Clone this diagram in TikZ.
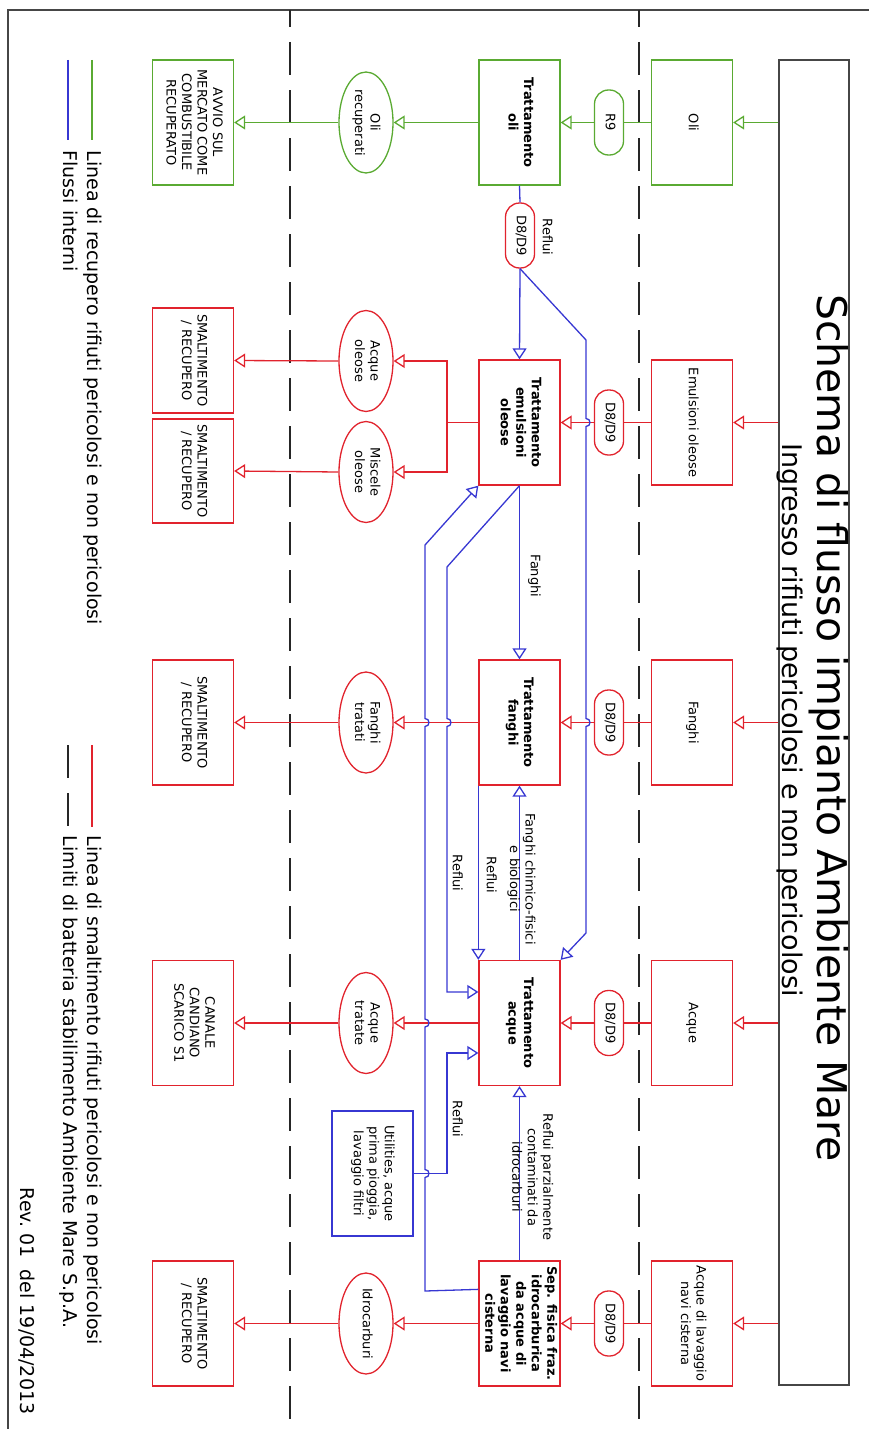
\documentclass[tikz,border=0pt]{standalone}
\usepackage{fontspec}
\setmainfont{DejaVu Sans}
\usepackage{graphicx}
\usetikzlibrary{arrows.meta,shapes.geometric,calc}
\definecolor{gr}{RGB}{90,170,50}
\definecolor{rd}{RGB}{225,35,45}
\definecolor{bl}{RGB}{55,55,210}
\definecolor{frm}{RGB}{70,70,70}
\newcommand\fs{\fontsize{13}{15.5}\selectfont}
\newcommand\lfs{\fontsize{19}{23}\selectfont}
\newcommand\vt[1]{\rotatebox{-90}{\begin{tabular}{@{}c@{}}#1\end{tabular}}}
\begin{document}
\begin{tikzpicture}[x=1pt,y=-1pt,line width=1.3pt,
  box/.style={draw,minimum width=81pt,minimum height=125pt,inner sep=0pt,font=\fs},
  tbox/.style={box,font=\fs\bfseries},
  obox/.style={box},
  ell/.style={ellipse,draw,minimum width=54pt,minimum height=101pt,inner sep=0pt,font=\fs},
  pill/.style={draw,rounded corners=14pt,minimum width=29pt,minimum height=65pt,inner sep=0pt,font=\fs},
  lbl/.style={inner sep=0pt,font=\fs},
  lgd/.style={inner sep=0pt,font=\lfs},
  arr/.style={-{Triangle[open,length=11pt,width=14pt]}},
  lim/.style={draw=black!85,line width=1.3pt,dash pattern=on 33pt off 15pt}
]
\useasboundingbox (0,0) rectangle (869,1429);
\clip (0,0) rectangle (869,1429);
% frame
\draw[frm,line width=1.5pt] (8,10) rectangle (900,1460);
% battery limits
\draw[lim,dash phase=16pt] (290,10) -- (290,1429);
\draw[lim,dash phase=16pt] (639,10) -- (639,1429);
% title box
\node[draw=frm,line width=1.5pt,minimum width=70pt,minimum height=1325pt,inner sep=0pt] (tb) at (814,722.5) {};
\node[inner sep=0pt,font=\fontsize{41}{48}\selectfont] (ttl) at (829,728) {\rotatebox{-90}{Schema di flusso impianto Ambiente Mare}};
\node[inner sep=0pt,font=\fontsize{27}{32}\selectfont] (sub) at (790,720) {\rotatebox{-90}{Ingresso rifiuti pericolosi e non pericolosi}};

% ---------- row 1: oli ----------
\node[box,draw=gr] (in1) at (692,122.5) {\vt{Oli}};
\node[pill,draw=gr] (p1) at (609,122.5) {\vt{R9}};
\node[tbox,draw=gr] (t1) at (519.5,122.5) {\vt{Trattamento\\oli}};
\node[ell,draw=gr] (e1) at (366,122.5) {\vt{Oli\\recuperati}};
\node[obox,draw=gr] (o1) at (193,122.5) {\vt{AVVIO SUL\\MERCATO COME\\COMBUSTIBILE\\RECUPERATO}};
\draw[gr,arr] (tb.west |- in1.east) -- (in1.east);
\draw[gr] (in1.west) -- (p1.east);
\draw[gr,arr] (p1.west) -- (t1.east);
\draw[gr,arr] (t1.west) -- (e1.east);
\draw[gr,arr] (e1.west) -- (o1.east);

% ---------- row 2: emulsioni ----------
\node[box,draw=rd] (in2) at (692,422.5) {\vt{Emulsioni oleose}};
\node[pill,draw=rd] (p2) at (609,422.5) {\vt{D8/D9}};
\node[tbox,draw=rd] (t2) at (519.5,422.5) {\vt{Trattamento\\emulsioni\\oleose}};
\node[ell,draw=rd] (e2a) at (366,361) {\vt{Acque\\oleose}};
\node[ell,draw=rd] (e2b) at (366,472) {\vt{Miscele\\oleose}};
\node[obox,draw=rd,minimum height=105pt] (o2a) at (193,360.5) {\vt{SMALTIMENTO\\/ RECUPERO}};
\node[obox,draw=rd,minimum height=104pt] (o2b) at (193,471) {\vt{SMALTIMENTO\\/ RECUPERO}};
\coordinate (sp2) at (447,422.5);
\draw[rd,arr] (tb.west |- in2.east) -- (in2.east);
\draw[rd] (in2.west) -- (p2.east);
\draw[rd,arr] (p2.west) -- (t2.east);
\draw[rd] (t2.west) -- (sp2);
\draw[rd,arr] (sp2) |- (e2a.east);
\draw[rd,arr] (sp2) |- (e2b.east);
\draw[rd,arr] (e2a.west) -- (o2a.east);
\draw[rd,arr] (e2b.west) -- (o2b.east);

% ---------- row 3: fanghi ----------
\node[box,draw=rd] (in3) at (692,722.5) {\vt{Fanghi}};
\node[pill,draw=rd] (p3) at (609,722.5) {\vt{D8/D9}};
\node[tbox,draw=rd] (t3) at (519.5,722.5) {\vt{Trattamento\\fanghi}};
\node[ell,draw=rd] (e3) at (366,722.5) {\vt{Fanghi\\tratati}};
\node[obox,draw=rd] (o3) at (193,722.5) {\vt{SMALTIMENTO\\/ RECUPERO}};
\draw[rd,arr] (tb.west |- in3.east) -- (in3.east);
\draw[rd] (in3.west) -- (p3.east);
\draw[rd,arr] (p3.west) -- (t3.east);
\draw[rd,arr] (t3.west) -- (e3.east);
\draw[rd,arr] (e3.west) -- (o3.east);

% ---------- row 4: acque ----------
\node[box,draw=rd] (in4) at (692,1023) {\vt{Acque}};
\node[pill,draw=rd] (p4) at (609,1023) {\vt{D8/D9}};
\node[tbox,draw=rd] (t4) at (519.5,1023) {\vt{Trattamento\\acque}};
\node[ell,draw=rd] (e4) at (366,1023) {\vt{Acque\\tratate}};
\node[obox,draw=rd] (o4) at (193,1023) {\vt{CANALE\\CANDIANO\\SCARICO S1}};
\draw[rd,arr] (tb.west |- in4.east) -- (in4.east);
\draw[rd] (in4.west) -- (p4.east);
\draw[rd,arr] (p4.west) -- (t4.east);
\draw[rd,arr] (t4.west) -- (e4.east);
\draw[rd,arr] (e4.west) -- (o4.east);

% ---------- row 5: lavaggio navi ----------
\node[box,draw=rd] (in5) at (692,1323.5) {\vt{Acque di lavaggio\\navi cisterna}};
\node[pill,draw=rd] (p5) at (609,1323.5) {\vt{D8/D9}};
\node[tbox,draw=rd] (t5) at (519.5,1323.5) {\vt{Sep. fisica fraz.\\idrocarburica\\da acque di\\lavaggio navi\\cisterna}};
\node[ell,draw=rd] (e5) at (366,1323.5) {\vt{Idrocarburi}};
\node[obox,draw=rd] (o5) at (193,1323.5) {\vt{SMALTIMENTO\\/ RECUPERO}};
\draw[rd,arr] (tb.west |- in5.east) -- (in5.east);
\draw[rd] (in5.west) -- (p5.east);
\draw[rd,arr] (p5.west) -- (t5.east);
\draw[rd,arr] (t5.west) -- (e5.east);
\draw[rd,arr] (e5.west) -- (o5.east);

% ---------- internal flows ----------
\node[pill,draw=rd] (pr) at (520,235.5) {\vt{D8/D9}};
\node[lbl] (lr1) at (546,237) {\vt{Reflui}};
\draw[bl] (t1.south) -- (pr.north);
\draw[bl,arr] (pr.south) -- (t2.north);
\draw[bl,arr] (pr.south) -- (586,340) -- (586,418.5)
  .. controls (591.3,418.5) and (591.3,426.5) .. (586,426.5) -- (586,718.5)
  .. controls (591.3,718.5) and (591.3,726.5) .. (586,726.5) -- (586,933) -- (t4.north east);

\draw[bl,arr] (t2.south) -- (t3.north);
\node[lbl] (lf) at (534,576) {\vt{Fanghi}};

\draw[bl,arr] (t2.south) -- (447,567) -- (447,718.5)
  .. controls (452.3,718.5) and (452.3,726.5) .. (447,726.5) -- (447,992) -- (t4.west |- 0,992);
\node[lbl] (lr2) at (456,873) {\vt{Reflui}};

\draw[bl,arr] (t3.south west) -- (t4.north west);
\node[lbl] (lr3) at (490,875) {\vt{Reflui}};

\draw[bl,arr] (t4.north) -- (t3.south);
\node[lbl] (lfc) at (521,879) {\vt{Fanghi chimico-fisici\\e biologici}};

\node[box,draw=bl] (u) at (372.5,1173.5) {\vt{Utilities, acque\\prima pioggia,\\lavaggio filtri}};
\draw[bl,arr] (u.east) -- (447,1173.5) -- (447,1053) -- (t4.west |- 0,1053);
\node[lbl] (lr4) at (456,1119) {\vt{Reflui}};

\draw[bl,arr] ($(t5.north west)+(0,29)$) -- (425,1291) -- (425,1177.5)
  .. controls (430.3,1177.5) and (430.3,1169.5) .. (425,1169.5) -- (425,1027)
  .. controls (430.3,1027) and (430.3,1019) .. (425,1019) -- (425,726.5)
  .. controls (430.3,726.5) and (430.3,718.5) .. (425,718.5) -- (425,545) -- (t2.south west);

\draw[bl,arr] (t5.north) -- (t4.south);
\node[lbl] (lrp) at (531,1177) {\vt{Reflui parzialmente\\contaminati da\\idrocarburi}};

% ---------- legend ----------
\draw[gr] (92,60) -- (92,140);
\draw[bl] (68,60) -- (68,140);
\node[lgd,anchor=north] (l1) at (92,150) {\vt{Linea di recupero rifiuti pericolosi e non pericolosi}};
\node[lgd,anchor=north] (l2) at (68,150) {\vt{Flussi interni}};
\draw[rd] (92,745) -- (92,827);
\draw[lim] (68,745) -- (68,827);
\node[lgd,anchor=north] (l3) at (92,835) {\vt{Linea di smaltimento rifiuti pericolosi e non pericolosi}};
\node[lgd,anchor=north] (l4) at (68,835) {\vt{Limiti di batteria stabilimento Ambiente Mare S.p.A.}};
\node[lgd,anchor=north] (rev) at (25,1187) {\vt{Rev.\ 01\ \ del 19/04/2013}};
\end{tikzpicture}
\end{document}
